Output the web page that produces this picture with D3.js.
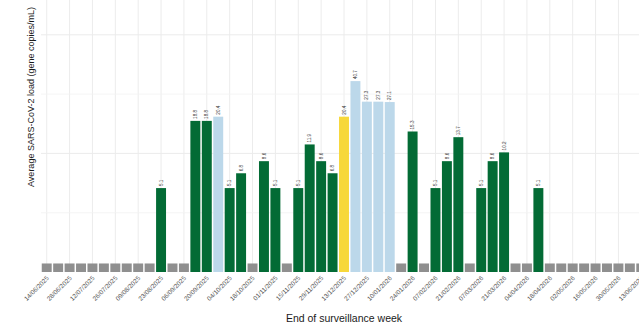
<!DOCTYPE html>
<html>
<head>
<meta charset="utf-8">
<script src="https://cdn.jsdelivr.net/npm/d3@7"></script>
<style>
  html, body { margin: 0; padding: 0; background: #fff; }
  svg { display: block; font-family: "Liberation Sans", Arial, sans-serif; }
</style>
</head>
<body>
<svg id="chart" width="639" height="326"></svg>
<script>
// ---- Data ----
const weeks = [
  "14/06/2025","21/06/2025","28/06/2025","05/07/2025","12/07/2025","19/07/2025","26/07/2025",
  "02/08/2025","09/08/2025","16/08/2025","23/08/2025","30/08/2025","06/09/2025","13/09/2025",
  "20/09/2025","27/09/2025","04/10/2025","11/10/2025","18/10/2025","25/10/2025","01/11/2025",
  "08/11/2025","15/11/2025","22/11/2025","29/11/2025","06/12/2025","13/12/2025","20/12/2025",
  "27/12/2025","03/01/2026","10/01/2026","17/01/2026","24/01/2026","31/01/2026","07/02/2026",
  "14/02/2026","21/02/2026","28/02/2026","07/03/2026","14/03/2026","21/03/2026","28/03/2026",
  "04/04/2026","11/04/2026","18/04/2026","25/04/2026","02/05/2026","09/05/2026","16/05/2026",
  "23/05/2026","30/05/2026","06/06/2026","13/06/2026"
];
// null = not detected (grey placeholder bar)
const loads = [
  null,null,null,null,null,null,null,null,null,null,5.1,null,null,18.8,
  18.8,20.4,5.1,6.8,null,8.6,5.1,null,5.1,11.9,8.6,6.8,20.4,40.7,
  27.3,27.3,27.1,null,15.3,null,5.1,8.6,13.7,null,5.1,8.6,10.2,null,
  null,5.1,null,null,null,null,null,null,null,null,null
];
const status = [
  "nd","nd","nd","nd","nd","nd","nd","nd","nd","nd","low","nd","nd","low",
  "low","mod","low","low","nd","low","low","nd","low","low","low","low","high","mod",
  "mod","mod","mod","nd","low","nd","low","low","low","nd","low","low","low","nd",
  "nd","low","nd","nd","nd","nd","nd","nd","nd","nd","nd"
];
const notDetectedValue = 1.18;
const tickLabels = weeks.filter((d, i) => i % 2 === 0);
const yMajor = [10, 100];
const yMinor = [3.162, 31.62];
const colours = { nd: "#8f8f8f", low: "#036b35", mod: "#bcd8ea", high: "#f7d83a" };

// ---- Chart ----
const svg = d3.select("#chart");
const plotLeft = 41, plotRight = 647, baseY = 272;

const x = d3.scaleBand().domain(weeks).range([plotLeft, plotRight]).paddingInner(0.13).paddingOuter(0.065);
const y = d3.scaleLog().domain([1, 100]).range([baseY, baseY - 2 * 118.6]);

// grid
const grid = svg.append("g");
grid.selectAll("line.vx").data(tickLabels).join("line")
  .attr("x1", d => x(d) + x.bandwidth() / 2).attr("x2", d => x(d) + x.bandwidth() / 2)
  .attr("y1", 0).attr("y2", baseY)
  .attr("stroke", "#ececec").attr("stroke-width", 1);
grid.selectAll("line.hmin").data(yMinor).join("line")
  .attr("x1", plotLeft).attr("x2", plotRight)
  .attr("y1", d => y(d)).attr("y2", d => y(d))
  .attr("stroke", "#f2f2f2").attr("stroke-width", 0.8);
grid.selectAll("line.hmaj").data(yMajor).join("line")
  .attr("x1", plotLeft).attr("x2", plotRight)
  .attr("y1", d => y(d)).attr("y2", d => y(d))
  .attr("stroke", "#ebebeb").attr("stroke-width", 1);

// bars
const rows = weeks.map((w, i) => ({ week: w, value: loads[i], status: status[i] }));
svg.append("g").selectAll("rect").data(rows).join("rect")
  .attr("x", d => x(d.week))
  .attr("width", x.bandwidth())
  .attr("y", d => y(d.value == null ? notDetectedValue : d.value))
  .attr("height", d => baseY - y(d.value == null ? notDetectedValue : d.value))
  .attr("fill", d => colours[d.status]);

// value labels
svg.append("g").selectAll("text").data(rows.filter(d => d.value != null)).join("text")
  .attr("transform", d => `translate(${x(d.week) + x.bandwidth() / 2},${y(d.value) - 2}) rotate(-90)`)
  .attr("dy", "0.35em")
  .attr("font-size", 4.6)
  .attr("fill", "#333")
  .text(d => d.value.toFixed(1));

// x axis labels
svg.append("g").selectAll("text").data(tickLabels).join("text")
  .attr("transform", d => `translate(${x(d) + x.bandwidth() / 2 + 1},${baseY + 5}) rotate(-45)`)
  .attr("text-anchor", "end")
  .attr("dy", "0.35em")
  .attr("font-size", 6.4)
  .attr("fill", "#555")
  .text(d => d);

// axis titles
svg.append("text")
  .attr("x", (plotLeft + plotRight) / 2).attr("y", 322)
  .attr("text-anchor", "middle")
  .attr("font-size", 10.5)
  .attr("fill", "#1a1a1a")
  .text("End of surveillance week");

svg.append("text")
  .attr("transform", "translate(34,97) rotate(-90)")
  .attr("text-anchor", "middle")
  .attr("font-size", 9)
  .attr("fill", "#1a1a1a")
  .text("Average SARS-CoV-2 load (gene copies/mL)");
</script>
</body>
</html>
